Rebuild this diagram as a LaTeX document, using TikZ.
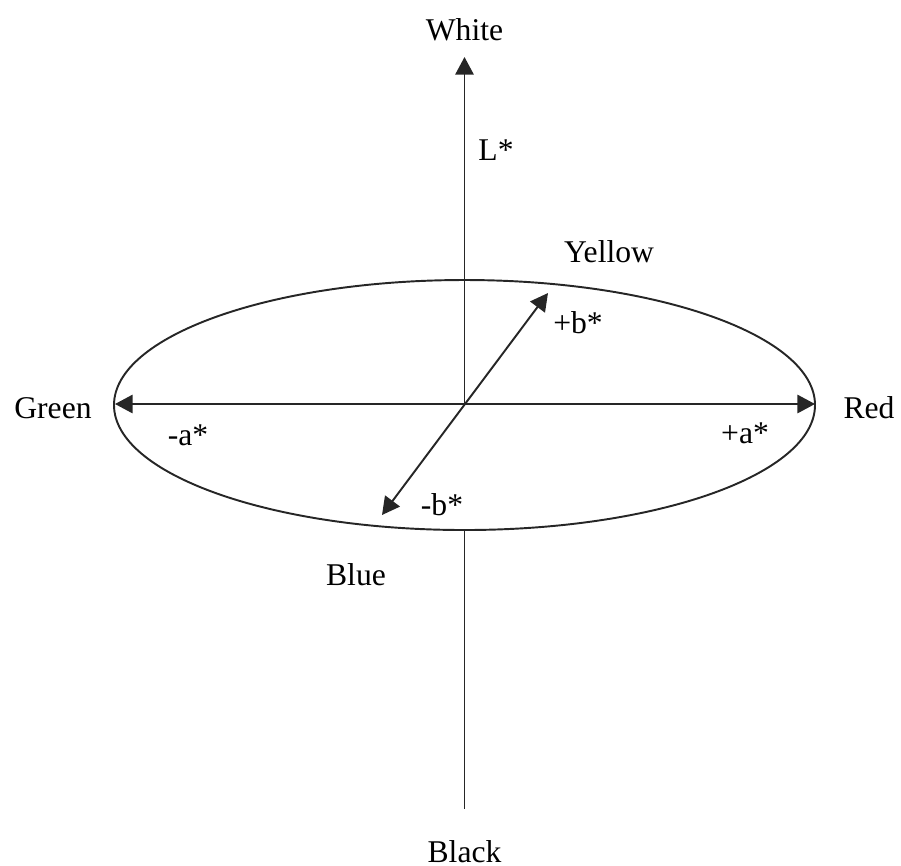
\documentclass[tikz,border=0pt]{standalone}
\usepackage{fontspec}
\setmainfont{Liberation Serif}
\usetikzlibrary{arrows.meta}
\tikzset{>={Triangle[length=5pt,width=5.2pt]}}
\tikzset{
  axis/.style={black!85,line width=0.55pt},
  lab/.style={font=\fontsize{9}{11}\selectfont,inner sep=0pt},
}
\begin{document}
\begin{tikzpicture}
\useasboundingbox (0,0) rectangle (9.01,-8.65);
% centre of the colour space and the ends of the axes
\coordinate (O) at (4.645,-4.05);
\coordinate (top) at (4.645,-0.57);
\coordinate (botin) at (4.645,-5.30);
\coordinate (bot) at (4.645,-8.09);
\coordinate (left) at (1.15,-4.04);
\coordinate (right) at (8.15,-4.04);
\coordinate (bneg) at (3.82,-5.15);
\coordinate (bpos) at (5.48,-2.93);
% ellipse of the a*b* plane
\draw[axis] (O) ellipse [x radius=3.505,y radius=1.25];
\draw[axis,->] (O) -- (top);
\draw[axis] (botin) -- (bot);
\draw[axis,<->] (left) -- (right);
\draw[axis,<->] (bneg) -- (bpos);
% labels
\node[lab] (white) at (4.645,-0.30) {White};
\node[lab] (Lstar) at (4.96,-1.50) {L*};
\node[lab] (yellow) at (6.09,-2.52) {Yellow};
\node[lab] (bplus) at (5.78,-3.23) {+b*};
\node[lab] (green) at (0.53,-4.08) {Green};
\node[lab] (aminus) at (1.88,-4.35) {-a*};
\node[lab] (aplus) at (7.45,-4.33) {+a*};
\node[lab] (red) at (8.69,-4.08) {Red};
\node[lab] (bminus) at (4.42,-5.05) {-b*};
\node[lab] (blue) at (3.56,-5.75) {Blue};
\node[lab] (black) at (4.645,-8.52) {Black};
\end{tikzpicture}
\end{document}
